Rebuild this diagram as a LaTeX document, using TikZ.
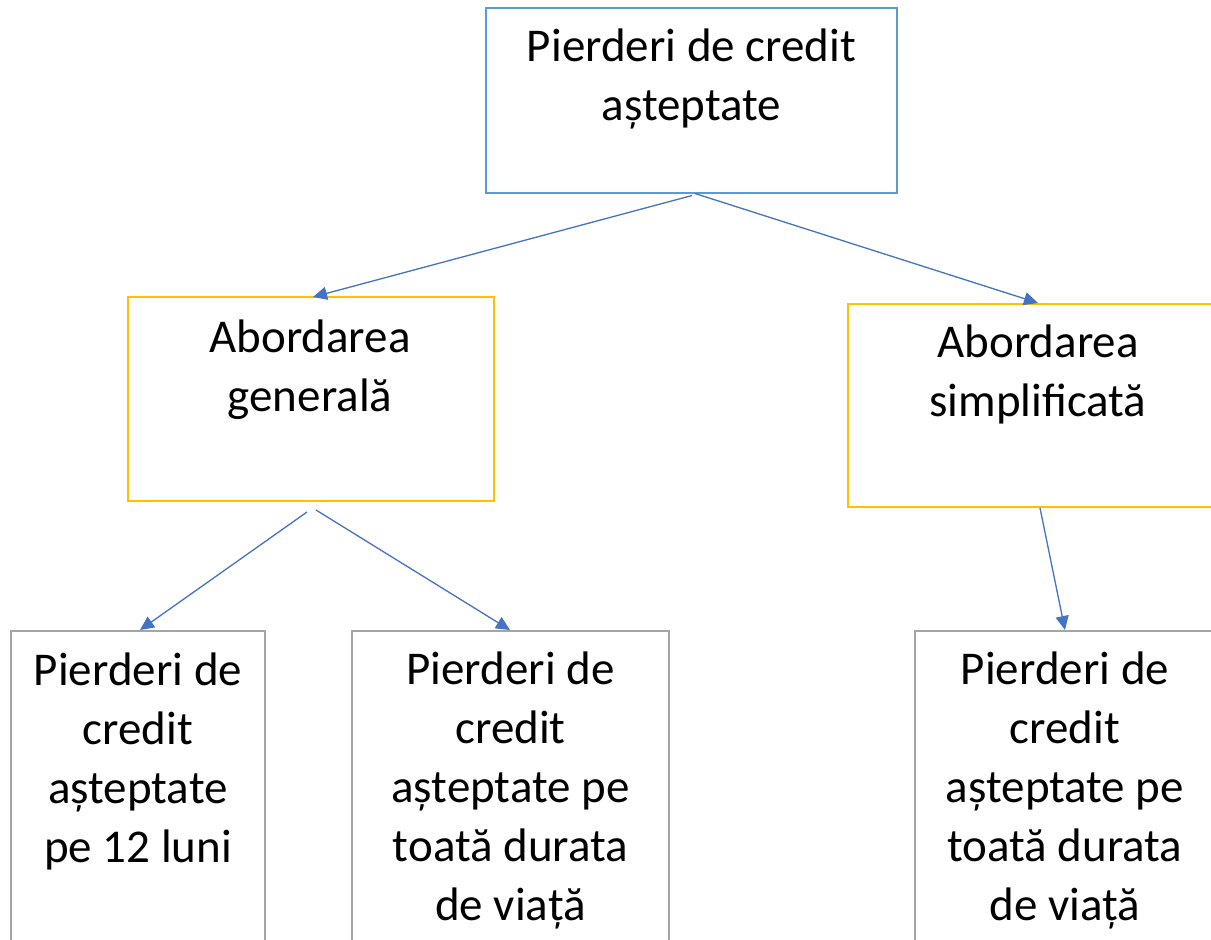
\documentclass[tikz,border=0pt]{standalone}
\usepackage{fontspec}
\setmainfont{Carlito}
\usetikzlibrary{arrows.meta,calc}
\definecolor{boxblue}{HTML}{5B9BD5}
\definecolor{boxyellow}{HTML}{FFC000}
\definecolor{boxgray}{HTML}{A5A5A5}
\definecolor{arrowblue}{HTML}{4472C4}
\begin{document}
\begin{tikzpicture}[x=0.5pt,y=-0.5pt,
  box/.style={draw,rectangle,inner sep=0pt,outer sep=0pt},
  topbox/.style={box,draw=boxblue,line width=1pt},
  midbox/.style={box,draw=boxyellow,line width=1.25pt},
  lowbox/.style={box,draw=boxgray,line width=1pt},
  txt/.style={align=center,anchor=base,inner sep=0pt,font=\fontsize{23.5pt}{29.5pt}\selectfont},
  conn/.style={draw=arrowblue,line width=0.65pt,-{Triangle[length=7pt,width=6.5pt]}}]
\useasboundingbox (0,0) rectangle (1211,939);
\clip (0,0) rectangle (1211,939);
\fill[white] (0,0) rectangle (1211,939);
% boxes
\node[topbox,minimum width=205.5pt,minimum height=92.5pt] (top) at (691.5,100) {};
\node[midbox,minimum width=183pt,minimum height=102pt] (gen) at (311,399) {};
\node[midbox,minimum width=190pt,minimum height=101.5pt] (simp) at (1038,405.5) {};
\node[lowbox,minimum width=127pt,minimum height=200pt] (b1) at (138,831) {};
\node[lowbox,minimum width=158.5pt,minimum height=200pt] (b2) at (510.5,831) {};
\node[lowbox,minimum width=150pt,minimum height=200pt] (b3) at (1065,831) {};
% texts (anchor base = baseline of the last line)
\node[txt] (topT) at ($(top.north)+(0,113)$) {Pierderi de credit\\așteptate};
\node[txt] (genT) at ($(gen.north)+(-1,114)$) {Abordarea\\generală};
\node[txt] (simpT) at ($(simp.north)+(0,112)$) {Abordarea\\simplificată};
\node[txt] (b1T) at ($(b1.north)+(0,231)$) {Pierderi de\\credit\\așteptate\\pe 12 luni};
\node[txt] (b2T) at ($(b2.north)+(0,289)$) {Pierderi de\\credit\\așteptate pe\\toată durata\\de viață};
\node[txt] (b3T) at ($(b3.north)+(0,289)$) {Pierderi de\\credit\\așteptate pe\\toată durata\\de viață};
% connectors
\draw[conn] ($(top.south)+(0.5,3)$) -- ($(gen.north)+(2,0)$);
\draw[conn] ($(top.south)+(3.5,1)$) -- ($(simp.north)+(0,-1)$);
\draw[conn] ($(gen.south)+(-4,11)$) -- ($(b1.north)+(2,-1)$);
\draw[conn] ($(gen.south)+(5,9)$) -- ($(b2.north)+(-0.5,-1)$);
\draw[conn] ($(simp.south)+(2,1)$) -- ($(b3.north)+(0,-1)$);
\end{tikzpicture}
\end{document}
